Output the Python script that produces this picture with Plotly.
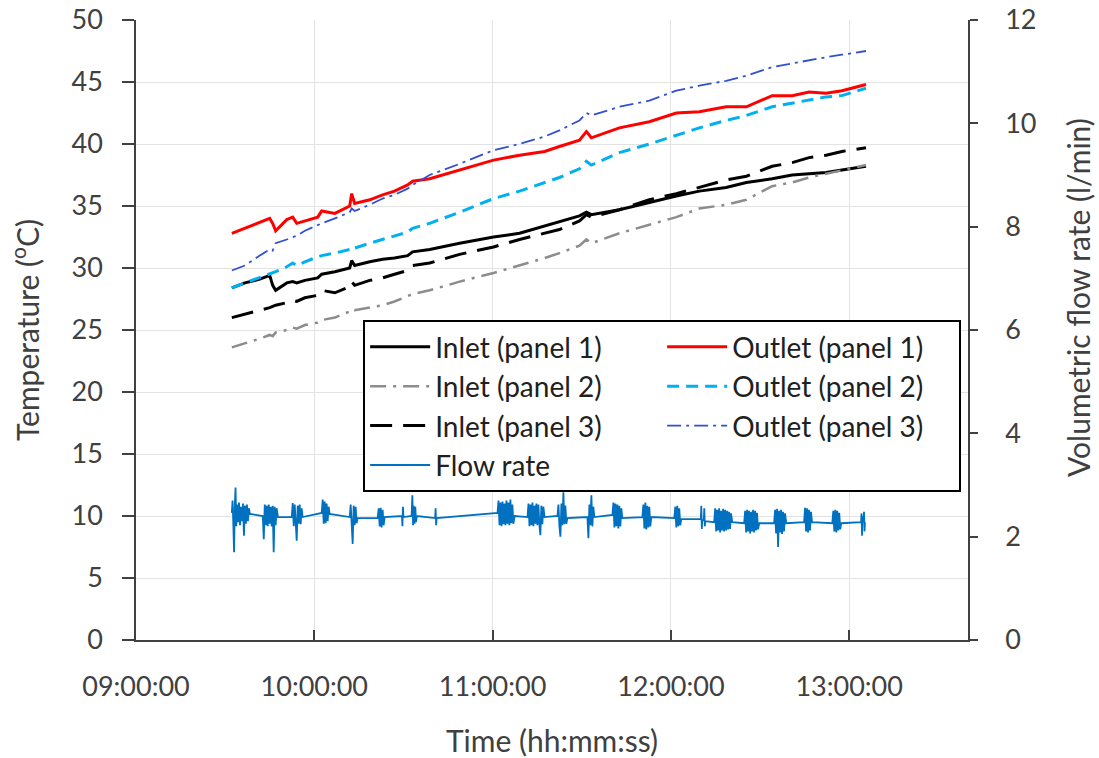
import plotly.graph_objects as go

DAY = "2000-01-01 "

# Temperature sampling times (hh:mm:ss)
temp_times = [
    "09:32:15", "09:36:40", "09:41:40", "09:45:00", "09:46:00", "09:47:00",
    "09:50:45", "09:52:45", "09:54:05", "09:56:50", "10:01:10", "10:02:30",
    "10:06:55", "10:11:55", "10:12:35", "10:13:35", "10:18:40", "10:23:00",
    "10:27:00", "10:31:25", "10:33:05", "10:38:50", "10:48:55", "11:00:20",
    "11:09:05", "11:17:30", "11:22:30", "11:29:15", "11:31:35", "11:33:15",
    "11:42:40", "11:52:45", "12:01:50", "12:09:35", "12:18:35", "12:25:25",
    "12:34:05", "12:40:50", "12:46:30", "12:52:15", "12:57:35", "13:05:40",
]

inlet_panel1 = [
    28.4, 28.8, 29.1, 29.4, 28.6, 28.2, 28.8, 28.9, 28.8, 29.0, 29.2, 29.5,
    29.7, 30.0, 30.6, 30.2, 30.5, 30.7, 30.8, 31.0, 31.3, 31.5, 32.0, 32.5,
    32.8, 33.4, 33.7, 34.2, 34.5, 34.3, 34.7, 35.3, 35.8, 36.2, 36.5, 36.9,
    37.2, 37.5, 37.6, 37.7, 37.9, 38.2,
]
outlet_panel1 = [
    32.8, 33.2, 33.7, 34.0, 33.6, 33.0, 33.9, 34.1, 33.6, 33.8, 34.1, 34.6,
    34.4, 35.0, 36.0, 35.2, 35.5, 35.9, 36.2, 36.7, 37.0, 37.2, 37.9, 38.7,
    39.1, 39.4, 39.8, 40.3, 41.0, 40.5, 41.3, 41.8, 42.5, 42.6, 43.0, 43.0,
    43.9, 43.9, 44.2, 44.1, 44.3, 44.8,
]
inlet_panel2 = [
    23.6, 23.9, 24.3, 24.6, 24.5, 24.8, 25.0, 25.2, 25.1, 25.4, 25.6, 25.8,
    26.0, 26.5, 26.7, 26.6, 26.8, 27.0, 27.3, 27.7, 27.9, 28.2, 28.9, 29.6,
    30.2, 30.8, 31.2, 31.8, 32.3, 32.0, 32.8, 33.5, 34.1, 34.8, 35.1, 35.5,
    36.6, 36.9, 37.3, 37.6, 37.9, 38.3,
]
outlet_panel2 = [
    28.4, 28.8, 29.2, 29.5, 29.6, 29.7, 30.1, 30.4, 30.2, 30.5, 30.9, 31.0,
    31.2, 31.5, 31.7, 31.6, 32.0, 32.3, 32.6, 32.9, 33.2, 33.6, 34.5, 35.6,
    36.2, 36.9, 37.3, 38.0, 38.6, 38.3, 39.3, 40.0, 40.7, 41.3, 41.9, 42.3,
    43.0, 43.3, 43.6, 43.8, 43.9, 44.5,
]
inlet_panel3 = [
    26.0, 26.3, 26.6, 26.8, 26.9, 27.0, 27.2, 27.4, 27.3, 27.6, 27.8, 28.2,
    28.0, 28.5, 28.9, 28.6, 29.0, 29.2, 29.5, 29.8, 30.2, 30.4, 31.1, 31.7,
    32.3, 32.8, 33.1, 33.8, 34.3, 34.1, 34.7, 35.5, 36.0, 36.5, 37.1, 37.4,
    38.2, 38.5, 38.9, 39.1, 39.4, 39.7,
]
outlet_panel3 = [
    29.8, 30.2, 31.0, 31.5, 31.4, 32.0, 32.3, 32.5, 32.6, 33.0, 33.5, 33.6,
    34.0, 34.5, 34.8, 34.6, 35.1, 35.6, 35.9, 36.4, 36.7, 37.5, 38.4, 39.5,
    40.0, 40.6, 41.1, 41.9, 42.5, 42.3, 43.0, 43.5, 44.3, 44.7, 45.1, 45.5,
    46.2, 46.5, 46.8, 47.0, 47.2, 47.5,
]

# Flow rate samples (l/min)
flow_times = [
    "09:32:15", "09:32:30", "09:32:45", "09:33:00", "09:33:15", "09:33:30", "09:33:45",
    "09:34:00", "09:34:20", "09:34:40", "09:35:00", "09:35:20", "09:35:40", "09:36:00",
    "09:36:20", "09:36:40", "09:37:00", "09:37:20", "09:37:40", "09:38:00", "09:38:20",
    "09:42:40", "09:43:00", "09:43:20", "09:43:40", "09:44:00", "09:44:20", "09:44:40",
    "09:45:00", "09:45:20", "09:45:40", "09:46:00", "09:46:20", "09:46:40", "09:47:00",
    "09:47:20", "09:47:45",
    "09:52:25", "09:52:45", "09:53:05", "09:53:25", "09:53:45", "09:54:05", "09:54:25",
    "09:54:45", "09:55:05", "09:55:25", "09:55:45", "09:56:05",
    "10:02:30", "10:02:50", "10:03:10", "10:03:30", "10:03:50", "10:04:10", "10:04:30",
    "10:04:50", "10:05:10",
    "10:11:55", "10:12:15", "10:12:35", "10:12:55", "10:13:15", "10:13:35", "10:13:55",
    "10:14:15", "10:14:35",
    "10:21:20", "10:21:40", "10:22:00", "10:22:20", "10:22:40", "10:23:00", "10:23:20",
    "10:23:40",
    "10:29:30", "10:29:40", "10:29:50", "10:30:00",
    "10:32:45", "10:33:00", "10:33:15", "10:33:30", "10:33:45", "10:34:00", "10:34:15",
    "10:34:30",
    "10:40:40", "10:40:50", "10:41:00", "10:41:10",
    "11:01:40", "11:02:00", "11:02:20", "11:02:40", "11:03:00", "11:03:20", "11:03:40",
    "11:04:00", "11:04:20", "11:04:40", "11:05:00", "11:05:20", "11:05:40", "11:06:00",
    "11:06:20", "11:06:40", "11:07:00", "11:07:25",
    "11:11:45", "11:12:05", "11:12:25", "11:12:45", "11:13:05", "11:13:25", "11:13:45",
    "11:14:05", "11:14:25", "11:14:45", "11:15:05", "11:15:25", "11:15:45", "11:16:05",
    "11:16:25", "11:16:45", "11:17:05", "11:17:30",
    "11:21:50", "11:22:10", "11:22:30", "11:22:50", "11:23:10", "11:23:30", "11:23:50",
    "11:24:10", "11:24:30", "11:24:50", "11:25:10",
    "11:31:55", "11:32:15", "11:32:35", "11:32:55", "11:33:15", "11:33:35", "11:33:55",
    "11:34:15",
    "11:40:20", "11:40:40", "11:41:00", "11:41:20", "11:41:40", "11:42:00", "11:42:20",
    "11:42:40", "11:43:00", "11:43:20", "11:43:40",
    "11:50:25", "11:50:45", "11:51:05", "11:51:25", "11:51:45", "11:52:05", "11:52:25",
    "11:52:45", "11:53:05", "11:53:25",
    "12:01:10", "12:01:30", "12:01:50", "12:02:10", "12:02:30", "12:02:50", "12:03:10",
    "12:03:30",
    "12:10:05", "12:10:15", "12:10:25", "12:10:35", "12:11:05", "12:11:15", "12:11:25",
    "12:11:35",
    "12:14:35", "12:14:55", "12:15:15", "12:15:35", "12:15:55", "12:16:15", "12:16:35",
    "12:16:55", "12:17:15", "12:17:35", "12:17:55", "12:18:15", "12:18:35", "12:18:55",
    "12:19:15", "12:19:35", "12:19:55", "12:20:15", "12:20:40",
    "12:24:40", "12:25:00", "12:25:20", "12:25:40", "12:26:00", "12:26:20", "12:26:40",
    "12:27:00", "12:27:20", "12:27:40", "12:28:00", "12:28:20", "12:28:40", "12:29:00",
    "12:29:20", "12:29:45",
    "12:34:45", "12:35:05", "12:35:25", "12:35:45", "12:36:05", "12:36:25", "12:36:45",
    "12:37:05", "12:37:25", "12:37:45", "12:38:05", "12:38:25", "12:38:50",
    "12:44:50", "12:45:10", "12:45:30", "12:45:50", "12:46:10", "12:46:30", "12:46:50",
    "12:47:10", "12:47:30",
    "12:54:20", "12:54:40", "12:55:00", "12:55:20", "12:55:40", "12:56:00", "12:56:20",
    "12:56:40", "12:57:00", "12:57:20",
    "13:04:00", "13:04:10", "13:04:20", "13:04:30", "13:04:50", "13:05:00", "13:05:10",
    "13:05:20",
]
flow_rate = [
    2.46, 2.70, 2.25, 1.70, 2.60, 2.95, 2.20,
    2.62, 2.28, 2.66, 2.22, 2.58, 2.30, 2.64,
    2.02, 2.60, 2.25, 2.62, 2.30, 2.55, 2.44,
    2.40, 1.95, 2.62, 2.22, 2.60, 2.20, 2.62,
    2.25, 2.58, 2.20, 2.60, 1.70, 2.58, 2.22,
    2.55, 2.38,
    2.38, 2.65, 2.20, 2.62, 2.22, 1.92, 2.60,
    2.25, 2.62, 2.24, 2.55, 2.38,
    2.46, 2.72, 2.25, 2.68, 2.26, 2.64, 2.30,
    2.58, 2.44,
    2.38, 2.62, 2.20, 1.86, 2.60, 2.22, 2.58,
    2.26, 2.36,
    2.36, 2.55, 2.20, 2.56, 2.18, 2.52, 2.22,
    2.38,
    2.40, 2.20, 2.58, 2.38,
    2.40, 2.80, 2.22, 2.60, 2.25, 2.58, 2.28,
    2.40,
    2.36, 2.55, 2.22, 2.36,
    2.46, 2.70, 2.22, 2.66, 2.20, 2.68, 2.24,
    2.64, 2.22, 2.70, 2.25, 2.66, 2.22, 2.72,
    2.26, 2.62, 2.25, 2.40,
    2.38, 2.64, 2.20, 2.62, 2.22, 2.66, 2.20,
    2.60, 2.25, 2.64, 2.22, 2.62, 2.24, 2.03,
    2.60, 2.24, 2.58, 2.38,
    2.40, 2.62, 2.20, 2.00, 2.64, 2.22, 2.86,
    2.24, 2.60, 2.25, 2.36,
    2.38, 1.97, 2.62, 2.22, 2.80, 2.20, 2.58,
    2.38,
    2.42, 2.66, 2.18, 2.64, 2.20, 2.62, 2.16,
    2.60, 2.20, 2.55, 2.36,
    2.38, 2.62, 2.16, 2.66, 2.14, 2.60, 2.18,
    2.58, 2.20, 2.38,
    2.36, 2.58, 2.18, 2.60, 2.20, 2.55, 2.22,
    2.34,
    2.34, 2.60, 2.15, 2.32, 2.32, 2.55, 2.20,
    2.30,
    2.28, 2.55, 2.10, 2.52, 2.12, 2.55, 2.08,
    2.50, 2.12, 2.54, 2.10, 2.52, 2.12, 2.50,
    2.14, 2.48, 2.15, 2.45, 2.28,
    2.26, 2.50, 2.08, 2.52, 2.10, 2.50, 2.06,
    2.48, 2.10, 2.52, 2.08, 2.50, 2.12, 2.46,
    2.14, 2.26,
    2.26, 2.52, 2.06, 2.54, 1.80, 2.50, 2.08,
    2.52, 2.05, 2.48, 2.10, 2.45, 2.26,
    2.28, 2.56, 2.10, 2.55, 2.08, 2.52, 2.12,
    2.48, 2.28,
    2.26, 2.50, 2.10, 2.52, 2.08, 2.50, 2.12,
    2.46, 2.14, 2.26,
    2.28, 2.45, 2.02, 2.40, 2.28, 2.48, 2.10,
    2.28,
]

temp_ticks = [0, 5, 10, 15, 20, 25, 30, 35, 40, 45, 50]
flow_ticks = [0, 2, 4, 6, 8, 10, 12]
time_ticks = ["09:00:00", "10:00:00", "11:00:00", "12:00:00", "13:00:00"]

tx = [DAY + t for t in temp_times]
fx = [DAY + t for t in flow_times]

FONT = "Lato"
TXT = "#404040"
AX = "#404040"
GRID = "#E3E3E3"

fig = go.Figure()
series = [
    ("Inlet (panel 1)", inlet_panel1, "#000000", 3, "solid"),
    ("Outlet (panel 1)", outlet_panel1, "#FF0000", 3, "solid"),
    ("Inlet (panel 2)", inlet_panel2, "#8C8C8C", 2.5, "16px,7px,3px,7px"),
    ("Outlet (panel 2)", outlet_panel2, "#00B0F0", 3, "12px,7px"),
    ("Inlet (panel 3)", inlet_panel3, "#000000", 3, "22px,11px"),
    ("Outlet (panel 3)", outlet_panel3, "#3050D0", 1.8, "14px,5px,3px,5px"),
]
for name, vals, col, w, dash in series:
    fig.add_trace(go.Scatter(x=tx, y=vals, name=name, mode="lines",
                             line=dict(color=col, width=w, dash=dash)))
fig.add_trace(go.Scatter(x=fx, y=flow_rate, name="Flow rate", mode="lines",
                         line=dict(color="#0070C0", width=1.8), yaxis="y2"))

fig.update_layout(
    width=1099, height=758,
    margin=dict(l=136, r=131, t=20, b=118, autoexpand=False),
    paper_bgcolor="white", plot_bgcolor="white",
    font=dict(family=FONT, color=TXT, size=27),
    xaxis=dict(
        type="date", automargin=False,
        range=[DAY + "09:00:00", DAY + "13:40:00"],
        tickvals=[DAY + t for t in time_ticks], ticktext=time_ticks,
        showgrid=True, gridcolor=GRID, gridwidth=1,
        showline=True, linecolor=AX, linewidth=1.5,
        ticks="inside", ticklen=10, tickcolor=AX, tickwidth=1.5,
        ticklabelstandoff=22, ticklabeloverflow="allow",
        tickfont=dict(size=27, family=FONT, color=TXT),
        title=dict(text="Time (hh:mm:ss)", font=dict(size=30, family=FONT, color=TXT), standoff=30),
        zeroline=False,
    ),
    yaxis=dict(
        range=[0, 50], tickvals=temp_ticks, automargin=False,
        showgrid=True, gridcolor=GRID, gridwidth=1,
        showline=True, linecolor=AX, linewidth=1.5,
        ticks="outside", ticklen=12, tickcolor=AX, tickwidth=1.5,
        ticklabelstandoff=14, ticklabeloverflow="allow",
        tickfont=dict(size=27, family=FONT, color=TXT),
        title=dict(text="Temperature (<sup>o</sup>C)", font=dict(size=30, family=FONT, color=TXT), standoff=23),
        zeroline=False,
    ),
    yaxis2=dict(
        range=[0, 12], tickvals=flow_ticks, overlaying="y", side="right",
        showgrid=False, automargin=False,
        showline=True, linecolor=AX, linewidth=1.5,
        ticks="outside", ticklen=8, tickcolor=AX, tickwidth=1.5,
        ticklabelstandoff=22, ticklabeloverflow="allow",
        tickfont=dict(size=27, family=FONT, color=TXT),
        zeroline=False,
    ),
    legend=dict(
        orientation="h", x=0.273, y=0.516, xanchor="left", yanchor="top",
        bgcolor="white", bordercolor="#000000", borderwidth=2,
        font=dict(size=28, family=FONT, color="#202020"),
        itemwidth=60, entrywidth=222, traceorder="normal",
    ),
    annotations=[dict(
        text="Volumetric flow rate (l/min)", textangle=-90,
        xref="paper", yref="paper", x=1.132, y=0.553,
        xanchor="center", yanchor="middle", showarrow=False,
        font=dict(size=30, family=FONT, color=TXT),
    )],
    showlegend=True,
)

# remove the default 8px page margin so the figure sits at the window corner
fig.write_html("out.html",
               config={"displayModeBar": False},
               post_script="document.body.style.margin='0';document.body.style.overflow='hidden';")
